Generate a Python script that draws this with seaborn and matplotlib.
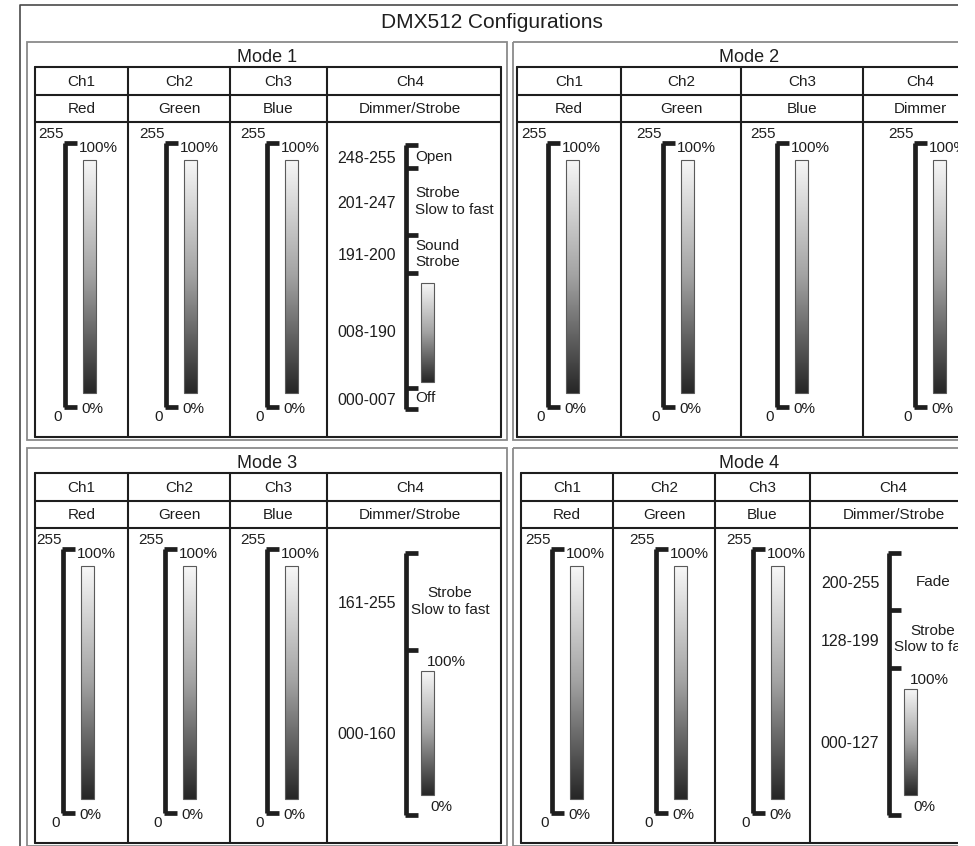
import numpy as np
import matplotlib
matplotlib.use('Agg')
import matplotlib.pyplot as plt
from matplotlib.patches import Rectangle
import seaborn as sns

# ---- content ----
title = "DMX512 Configurations"
modes = ["Mode 1", "Mode 2", "Mode 3", "Mode 4"]
channels = ["Ch1", "Ch2", "Ch3", "Ch4"]
functions = [
    ["Red", "Green", "Blue", "Dimmer/Strobe"],
    ["Red", "Green", "Blue", "Dimmer"],
    ["Red", "Green", "Blue", "Dimmer/Strobe"],
    ["Red", "Green", "Blue", "Dimmer/Strobe"],
]
top_value, bottom_value = "255", "0"
top_pct, bottom_pct = "100%", "0%"

# Ch4 split into DMX ranges ("" = dimmer fader)
mode1_ranges = ["248-255", "201-247", "191-200", "008-190", "000-007"]
mode1_effects = ["Open", "Strobe\nSlow to fast", "Sound\nStrobe", "", "Off"]
mode3_ranges = ["161-255", "000-160"]
mode3_effects = ["Strobe\nSlow to fast", ""]
mode4_ranges = ["200-255", "128-199", "000-127"]
mode4_effects = ["Fade", "Strobe\nSlow to fast", ""]
ch4_split = {0: (mode1_ranges, mode1_effects),
             2: (mode3_ranges, mode3_effects),
             3: (mode4_ranges, mode4_effects)}

# ---- layout (pixels) ----
panel_x = [(27, 507), (513, 985), (27, 507), (513, 985)]
panel_top = [42, 42, 448, 448]
col_edges = [[35, 128, 230, 327, 501], [517, 621, 741, 863, 985],
             [35, 128, 230, 327, 501], [521, 613, 715, 810, 985]]
bracket_x = [[65, 166, 267], [548, 663, 777, 915],
             [63, 165, 267], [552, 656, 753]]
# tick offsets (from panel top) of the Ch4 bracket
ch4_ticks = {0: [103, 126, 193, 231, 346, 367],
             2: [105, 202, 367],
             3: [105, 162, 220, 367]}

INK = "#1e1e1e"
FS = 11
sns.set_theme(style="white")
plt.rcParams['font.family'] = ['Liberation Sans', 'DejaVu Sans']

fig = plt.figure(figsize=(9.75, 8.46), dpi=100)
ax = fig.add_axes([0, 0, 1, 1])

grad = sns.blend_palette(["#f7f7f7", "#a2a2a2", "#262626"], as_cmap=True)
ramp = np.linspace(0, 1, 256).reshape(-1, 1)


def fader(x0, x1, y0, y1):
    ax.imshow(ramp, cmap=grad, extent=(x0, x1, y1, y0), aspect='auto',
              interpolation='bilinear', zorder=2)
    ax.add_patch(Rectangle((x0, y0), x1 - x0, y1 - y0, fill=False,
                           ec="#5a5a5a", lw=0.8, zorder=3))


def bracket(b, ys):
    ax.plot([b, b], [ys[0], ys[-1]], color=INK, lw=3.4, solid_capstyle='butt', zorder=3)
    for y in ys:
        ax.plot([b - 1.5, b + 12], [y, y], color=INK, lw=3.4, solid_capstyle='butt', zorder=3)


# outer frame + title
ax.plot([20, 20, 975], [846, 5, 5], color="#4a4a4a", lw=1.2)
ax.text(492, 22, title, ha='center', va='center', fontsize=15, color=INK)

for m, name in enumerate(modes):
    T = panel_top[m]
    px0, px1 = panel_x[m]
    edges = col_edges[m]
    ax.add_patch(Rectangle((px0, T), px1 - px0, 398, fill=False, ec="#8a8a8a", lw=1.3))
    ax.text((px0 + px1) / 2, T + 16, name, ha='center', va='center', fontsize=13, color=INK)

    # table grid
    tl, tr = edges[0], edges[-1]
    for y in [T + 25, T + 53, T + 80, T + 395]:
        ax.plot([tl, tr], [y, y], color=INK, lw=1.5)
    for x in edges:
        ax.plot([x, x], [T + 25, T + 395], color=INK, lw=1.5)
    for c in range(4):
        cx = (edges[c] + edges[c + 1]) / 2
        if c == 3:
            cx -= 4
        ax.text(cx, T + 40, channels[c], ha='center', va='center', fontsize=FS, color=INK)
        ax.text(cx, T + 67, functions[m][c], ha='center', va='center', fontsize=FS, color=INK)

    # plain 0-255 faders
    for b in bracket_x[m]:
        bracket(b, [T + 101, T + 365])
        fader(b + 18, b + 31, T + 118, T + 351)
        ax.text(b - 1, T + 92, top_value, ha='right', va='center', fontsize=FS, color=INK)
        ax.text(b + 14, T + 106, top_pct, ha='left', va='center', fontsize=FS, color=INK)
        ax.text(b - 7, T + 375, bottom_value, ha='center', va='center', fontsize=FS, color=INK)
        ax.text(b + 27, T + 367, bottom_pct, ha='center', va='center', fontsize=FS, color=INK)

    # split Ch4
    if m in ch4_split:
        ranges, effects = ch4_split[m]
        ticks = [T + t for t in ch4_ticks[m]]
        b = edges[3] + 79
        bracket(b, ticks)
        for i, (rng, eff) in enumerate(zip(ranges, effects)):
            y0, y1 = ticks[i], ticks[i + 1]
            ym = (y0 + y1) / 2
            ax.text(edges[3] + 40, ym + 2, rng, ha='center', va='center', fontsize=11.5, color=INK)
            if eff == "":
                if m == 0:
                    fader(b + 15, b + 28, y0 + 10, y1 - 6)
                else:
                    fader(b + 15, b + 28, y0 + 21, y1 - 20)
                    ax.text(b + 40, y0 + 12, top_pct, ha='center', va='center', fontsize=FS, color=INK)
                    ax.text(b + 35, y1 - 8, bottom_pct, ha='center', va='center', fontsize=FS, color=INK)
            elif m == 0:
                ax.text(b + 9, ym, eff, ha='left', va='center', fontsize=FS,
                        color=INK, linespacing=1.2)
            else:
                ax.text(b + 44, ym, eff, ha='center', va='center', fontsize=FS,
                        color=INK, linespacing=1.2, multialignment='center')

# picture is cropped on the right
ax.add_patch(Rectangle((958, -5), 30, 860, fc='white', ec='none', zorder=50))

ax.set_xlim(0, 975)
ax.set_ylim(846, 0)
ax.axis('off')
fig.savefig("out.png", dpi=100, facecolor='white')
